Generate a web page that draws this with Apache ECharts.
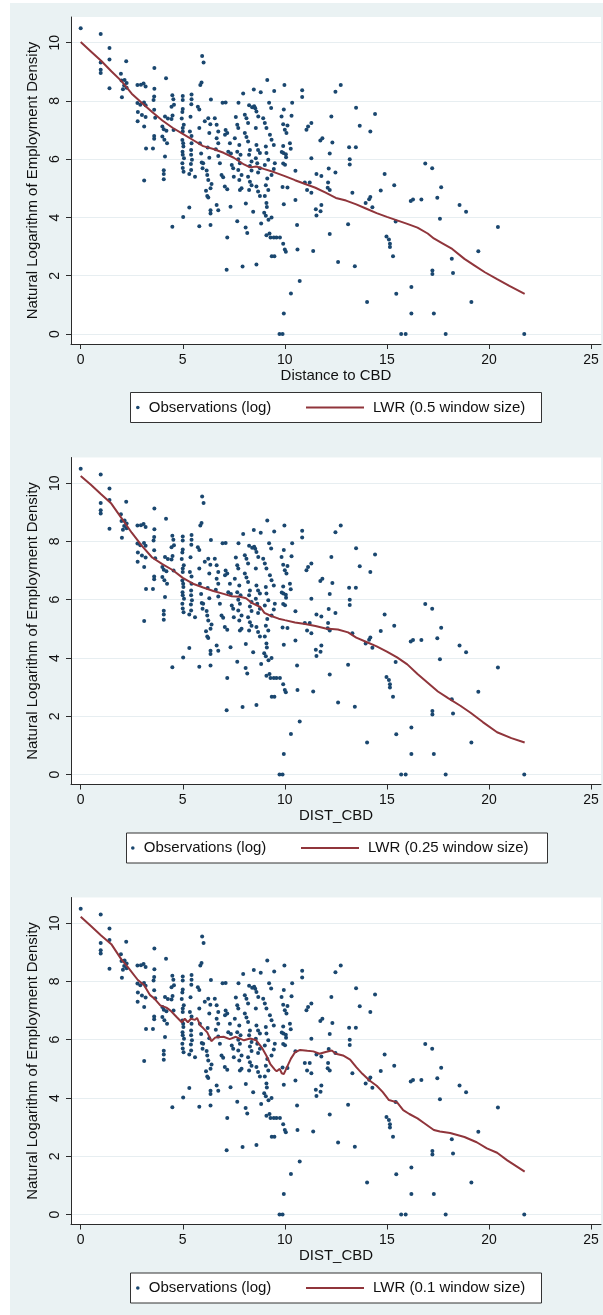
<!DOCTYPE html>
<html><head><meta charset="utf-8">
<script src="https://cdn.jsdelivr.net/npm/echarts@6/dist/echarts.min.js"></script>
<style>html,body{margin:0;padding:0;background:#fff;}#c{width:603px;height:1315px;}</style>
</head><body><div id="c"></div>
<script>
// ---- data ----
const observations = [
[0,10.5],[0.98,10.3],[1.41,9.82],[1.41,9.42],[0.98,9.32],[0.98,9.07],[0.98,8.96],[1.41,8.44],[2.23,9.36],[1.97,8.93],
[2.0,8.7],[2.15,8.72],[2.25,8.62],[2.13,8.53],[2.25,8.45],[2.07,8.4],[2.02,8.13],
[2.78,8.55],[2.95,8.56],[3.08,8.6],[3.18,8.5],[3.61,9.13],[3.61,8.42],[4.18,8.78],
[2.78,7.93],[2.92,7.87],[3.1,7.95],[3.18,7.85],[2.8,7.62],[3.0,7.52],[3.18,7.45],[2.79,7.3],[3.11,7.12],[3.2,6.37],[3.54,6.37],[3.11,5.27],
[3.6,8.15],[3.57,8.03],[3.6,7.7],[3.65,7.42],[3.6,6.8],[3.6,6.7],[4.0,7.12],[4.07,7.03],[4.2,6.98],[4.0,6.78],[4.1,6.67],[4.23,6.55],
[4.13,6.09],[4.07,5.62],[4.07,5.49],[4.07,5.31],[4.13,7.47],[4.27,7.4],
[4.49,8.2],[4.54,8.06],[4.45,7.8],[4.57,7.87],[4.5,7.5],[4.45,7.38],[4.55,7.0],[4.49,3.68],
[5.0,8.17],[5.0,8.03],[5.0,7.72],[4.98,7.62],[4.95,7.4],[5.05,7.18],[5.0,7.07],[5.0,6.95],[4.98,6.66],[5.02,6.55],[5.03,6.44],
[4.99,6.26],[5.0,6.15],[5.06,6.03],[4.98,5.86],[5.0,5.7],[5.04,5.57],[5.02,4.02],
[5.43,8.22],[5.43,8.06],[5.42,7.89],[5.38,7.46],[5.35,6.95],[5.43,6.8],[5.43,6.55],[5.41,6.32],[5.41,6.15],[5.45,5.98],[5.4,5.84],
[5.41,5.63],[5.32,5.49],[5.6,5.4],[5.32,4.34],
[5.74,7.8],[5.81,7.71],[5.86,8.55],[5.92,8.63],[5.95,9.54],[6.02,9.32],[5.81,7.07],[5.84,6.55],[5.9,6.2],[5.93,5.89],[5.97,5.69],[6.0,5.86],[5.81,3.7],
[6.38,8.05],[6.17,5.61],[6.2,5.46],[6.25,5.29],[6.14,4.92],[6.2,4.74],[6.25,4.69],[6.41,5.15],[6.36,5.0],[6.36,4.25],[6.36,4.14],[6.36,3.74],
[6.08,7.3],[6.25,7.41],[6.35,7.2],[6.3,6.9],[6.22,6.4],[6.3,6.05],
[6.57,7.41],[6.66,7.18],[6.74,6.95],[6.66,6.72],[6.74,6.55],[6.62,6.34],[6.74,6.11],[6.82,5.86],[6.9,5.46],[6.98,5.38],[7.06,5.06],[7.18,4.97],[6.66,4.43],[6.74,4.25],
[7.1,7.0],[7.18,6.9],[7.07,6.84],[7.31,6.55],[7.23,6.26],[7.36,6.2],[7.4,5.8],[7.47,5.69],[7.5,5.4],[7.18,3.31],[7.15,2.21],[7.34,4.37],
[7.6,7.45],[7.67,7.18],[7.72,7.07],[7.55,6.72],[7.77,6.49],[7.67,6.26],[7.83,6.15],[7.72,6.0],[7.8,5.86],[7.72,5.63],[7.88,5.46],[7.77,5.29],
[7.88,5.0],[7.8,4.94],[7.67,3.87],[7.93,2.32],
[8.04,7.53],[8.12,7.41],[8.2,7.24],[8.04,6.9],[8.12,6.76],[8.2,6.61],[8.29,6.32],[8.25,6.15],[8.37,5.92],[8.29,5.77],[8.37,5.61],[8.2,5.4],
[8.29,5.23],[8.37,5.11],[8.25,4.94],[8.08,3.66],[8.16,3.47],[8.09,4.48],
[7.1,7.95],[6.95,7.94],[7.73,7.94],[7.96,8.26],[8.25,7.85],
[8.61,7.64],[8.7,7.47],[8.58,7.07],[8.61,6.49],[8.69,6.32],[8.78,6.21],[8.58,6.03],[8.65,5.86],[8.78,5.69],[8.69,5.54],[8.61,5.06],[8.69,4.89],
[8.78,4.74],[8.45,4.2],[8.61,2.39],[8.94,7.41],[9.02,7.24],[9.1,7.07],[9.07,6.44],[9.1,6.21],[9.19,5.98],[9.02,5.8],[9.14,5.34],[9.07,5.11],
[9.19,4.94],[9.02,4.74],[9.27,6.84],[9.35,6.67],[9.46,6.49],[9.51,5.86],[9.46,5.66],[9.35,5.46],
[8.84,3.79],[8.99,4.16],[9.07,4.06],[9.2,3.92],[9.35,4.0],[9.1,4.5],[9.12,4.36],[9.1,3.39],[9.25,3.45],
[9.3,3.31],[9.46,3.31],[9.59,3.31],[9.76,3.31],[9.36,2.67],[9.49,2.67],
[9.84,7.47],[10.0,7.01],[10.08,6.9],[10.25,6.55],
[9.92,7.2],[10.13,7.16],[10.33,7.49],[9.92,6.45],[10.29,6.36],[9.85,6.25],[9.93,6.21],[10.05,6.17],[10.06,6.07],[9.92,5.85],[10.01,5.81],
[9.89,5.05],[10.13,5.03],[9.95,4.45],[9.92,3.1],[10.0,2.9],[10.05,2.82],[9.95,0.7],[9.74,0],[9.89,0],[10.3,1.39],[10.73,1.82],
[10.52,4.6],[10.6,3.74],[10.62,2.9],[10.52,5.6],
[8.4,7.78],[8.5,7.82],[8.55,7.75],[8.48,8.39],[8.82,8.3],[9.14,8.72],[9.23,7.94],[9.48,8.34],[9.98,8.55],[9.95,7.71],[10.36,7.94],
[10.85,8.37],[10.85,8.14],[9.33,7.76],
[10.98,5.2],[11.22,5.2],[11.09,4.94],[11.06,7.01],[11.14,7.12],[11.3,7.24],[11.74,6.64],[11.84,6.72],[12.33,6.57],[12.28,7.47],[12.2,6.2],
[11.3,6.03],[11.55,5.49],[11.79,5.42],[12.15,5.68],[12.48,5.54],[12.12,5.2],[12.2,4.94],[11.3,4.85],[11.52,4.28],[11.79,4.43],[12.1,5.02],
[11.39,2.85],[11.55,4.07],[11.75,4.21],[12.2,3.43],[12.61,2.47],[12.48,8.32],[12.74,8.55],[13.49,7.77],[13.67,7.15],[14.19,6.95],[14.42,7.55],
[13.15,6.41],[13.48,6.41],[13.18,6.0],[13.18,5.82],[13.1,3.77],[13.43,2.33],[13.31,4.85],[14.89,5.49],[14.7,4.93],[14.13,4.63],[14.19,4.7],
[13.96,4.5],[14.29,4.35],[14.03,1.1],
[14.98,3.35],[15.1,3.24],[15.15,3.1],[15.15,2.99],[15.3,2.67],[15.43,3.86],[15.36,5.11],[15.46,1.38],[15.7,0],[15.92,0],[16.2,1.61],[16.2,0.7],
[16.17,4.57],[16.28,4.62],[16.69,4.62],[16.88,5.85],[17.22,5.69],[17.66,5.04],[17.47,4.68],[17.23,2.18],[17.23,2.06],[17.3,0.7],[17.6,3.96],
[17.88,0],[18.18,2.58],[18.24,2.09],[18.56,4.43],[18.88,4.2],[19.14,1.1],[19.48,2.84],[20.44,3.67],[21.73,0]
];
const lwr05 = [[0,10.02],[0.5,9.7],[1,9.38],[1.5,9.02],[2,8.68],[2.5,8.25],[3,7.93],[3.5,7.62],[4,7.33],[4.5,7.08],[5,6.87],[5.5,6.66],
[6,6.45],[6.5,6.35],[7,6.22],[7.5,6.05],[8,5.82],[8.3,5.72],[8.6,5.75],[9,5.66],[9.5,5.55],[10,5.42],[10.5,5.28],[11,5.15],[11.5,5.02],
[12,4.85],[12.5,4.67],[13,4.58],[13.5,4.45],[14,4.3],[14.5,4.15],[15,4.02],[15.5,3.9],[16,3.78],[16.5,3.65],[17,3.45],[17.3,3.28],
[17.7,3.12],[18.2,2.92],[18.8,2.58],[19.3,2.35],[19.8,2.12],[20.4,1.88],[21,1.65],[21.75,1.38]];
const lwr025 = [[0,10.25],[0.5,9.95],[1,9.62],[1.5,9.3],[2,8.8],[2.5,8.3],[3,7.85],[3.5,7.45],[4,7.22],[4.5,7.02],[5,6.75],[5.5,6.55],
[6,6.42],[6.5,6.3],[7,6.2],[7.4,6.12],[7.8,6.1],[8.1,6.05],[8.4,5.88],[8.8,5.75],[9,5.55],[9.3,5.45],[9.7,5.35],[10,5.3],[10.5,5.22],
[11,5.17],[11.5,5.1],[12,5.01],[12.6,4.98],[13.1,4.88],[13.5,4.7],[14,4.55],[14.5,4.4],[15,4.22],[15.5,4.02],[16,3.78],[16.5,3.45],
[17,3.15],[17.5,2.85],[18,2.62],[18.6,2.36],[19.1,2.12],[19.7,1.8],[20.4,1.45],[21.1,1.25],[21.75,1.1]];
const lwr01 = [[0,10.22],[0.5,9.9],[1,9.58],[1.5,9.28],[2,8.75],[2.3,8.5],[2.8,8.05],[3.1,7.88],[3.4,7.53],[3.6,7.42],[3.9,7.18],[4.2,7.1],
[4.4,7.0],[4.7,6.78],[4.95,6.6],[5.1,6.72],[5.25,6.6],[5.4,6.72],[5.6,6.68],[5.7,6.75],[5.85,6.5],[6.0,6.4],[6.2,6.25],[6.4,5.95],[6.6,6.08],
[7.0,6.1],[7.3,6.02],[7.6,6.1],[8.0,5.98],[8.3,6.04],[8.6,5.98],[8.9,5.7],[9.1,5.45],[9.3,5.15],[9.5,4.98],[9.6,4.92],[9.75,5.0],[9.85,4.85],
[9.95,4.82],[10.1,5.05],[10.3,5.35],[10.5,5.57],[10.75,5.65],[11.1,5.62],[11.4,5.6],[11.7,5.52],[12.0,5.58],[12.3,5.63],[12.5,5.52],
[12.85,5.46],[13.2,5.32],[13.5,5.06],[13.8,4.83],[14.15,4.6],[14.5,4.42],[14.8,4.2],[15.1,3.93],[15.5,3.85],[15.8,3.58],[16.1,3.45],
[16.5,3.3],[16.8,3.15],[17.3,2.9],[17.6,2.85],[18.1,2.8],[18.8,2.66],[19.4,2.48],[19.9,2.27],[20.4,2.12],[20.9,1.86],[21.75,1.47]];
const xTicks = [0,5,10,15,20,25];
const yTicks = [0,2,4,6,8,10];
const obsName = 'Observations (log)';
const lwrNames = ['LWR (0.5 window size)','LWR (0.25 window size)','LWR (0.1 window size)'];
const xTitles = ['Distance to CBD','DIST_CBD','DIST_CBD'];
const yTitle = 'Natural Logarithm of Employment Density';
const lwrData = [lwr05, lwr025, lwr01];

// ---- layout / style ----
const FONT = '"Liberation Sans", Arial, Helvetica, sans-serif';
const TXT = '#111';
const AX = '#2b2b2b';
const offsets = [0, 440.5, 880.5];
const boxX = [130, 126, 130], boxW = [411, 421, 411];
const dotLeft = [136, 131, 136], lineLeft = [305, 300, 305];

const grids = [], xAxes = [], yAxes = [], series = [], legends = [];
const graphics = [
  {type:'rect', shape:{x:0,y:0,width:603,height:3}, style:{fill:'#fff'}, silent:true},
  {type:'rect', shape:{x:0,y:0,width:10,height:1315}, style:{fill:'#fff'}, silent:true}
];
for (let i = 0; i < 3; i++) {
  const oy = offsets[i];
  grids.push({left:71, top:17+oy, width:530, height:327, show:true, backgroundColor:'#fff', borderWidth:0, containLabel:false, outerBoundsMode:'none'});
  xAxes.push({gridIndex:i, type:'value', min:-0.475, max:25.49,
    axisLine:{show:true, onZero:false, lineStyle:{color:AX, width:1}},
    axisTick:{show:true, customValues:xTicks, length:5, lineStyle:{color:AX, width:1}},
    axisLabel:{show:true, customValues:xTicks, fontSize:14, color:TXT, margin:9, fontFamily:FONT},
    splitLine:{show:false},
    name:xTitles[i], nameLocation:'middle', nameGap:24,
    nameTextStyle:{fontSize:15, color:TXT, fontFamily:FONT}});
  yAxes.push({gridIndex:i, type:'value', min:-0.343, max:10.882, minInterval:2, maxInterval:2,
    axisLine:{show:true, onZero:false, lineStyle:{color:AX, width:1}},
    axisTick:{show:true, customValues:yTicks, length:5, lineStyle:{color:AX, width:1}},
    axisLabel:{show:true, customValues:yTicks, rotate:90, fontSize:14, color:TXT, margin:9, fontFamily:FONT},
    splitLine:{show:true, lineStyle:{color:'#e7eef1', width:1}},
    name:yTitle, nameLocation:'middle', nameGap:25,
    nameTextStyle:{fontSize:15, color:TXT, fontFamily:FONT}});
  series.push({type:'scatter', name:obsName, xAxisIndex:i, yAxisIndex:i, data:observations,
    symbol:'circle', symbolSize:4, itemStyle:{color:'#1a476f', opacity:1}, z:2, silent:true});
  series.push({type:'line', name:lwrNames[i], xAxisIndex:i, yAxisIndex:i, data:lwrData[i],
    symbol:'none', showSymbol:false, lineStyle:{color:'#90353b', width:2}, itemStyle:{color:'#90353b'}, z:3, silent:true});
  legends.push({data:[{name:obsName, icon:'circle'}], left:dotLeft[i], top:400+oy, padding:0,
    itemWidth:12, itemHeight:3.6, selectedMode:false,
    textStyle:{fontSize:15, color:TXT, fontFamily:FONT}});
  legends.push({data:[{name:lwrNames[i], itemStyle:{opacity:0, borderWidth:0}}], left:lineLeft[i], top:400+oy, padding:0,
    itemWidth:58, itemHeight:3.6, selectedMode:false,
    lineStyle:{color:'#90353b', width:2},
    textStyle:{fontSize:15, color:TXT, fontFamily:FONT, padding:[0,0,0,4]}});
  graphics.push({type:'rect', shape:{x:boxX[i]+0.5, y:392.5+oy, width:boxW[i], height:30},
    style:{fill:'#fff', stroke:'#333', lineWidth:1}, silent:true});
}

const chart = echarts.init(document.getElementById('c'), null, {renderer:'canvas'});
chart.setOption({
  animation:false,
  backgroundColor:'#eaf2f3',
  textStyle:{fontFamily:FONT},
  grid:grids, xAxis:xAxes, yAxis:yAxes, series:series, legend:legends,
  graphic:{elements:graphics}
});
</script></body></html>
